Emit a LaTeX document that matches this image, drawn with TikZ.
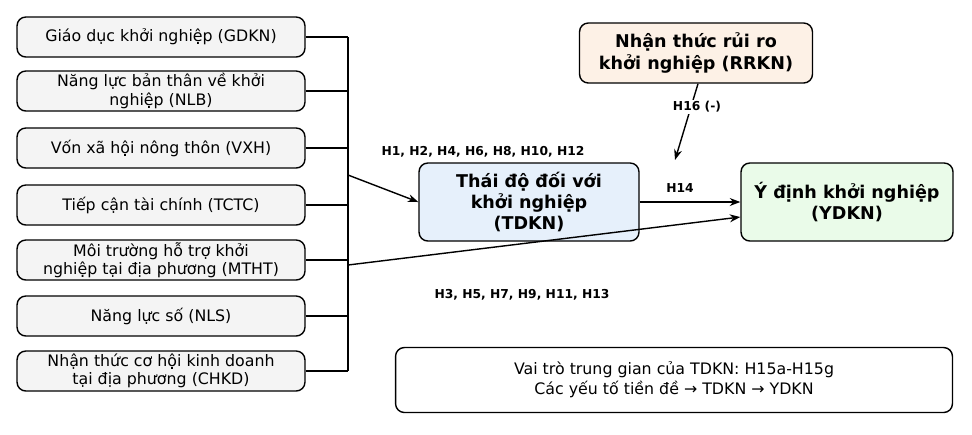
\documentclass[tikz,border=0pt]{standalone}
\usepackage{fontspec}
\setmainfont{DejaVu Sans}
\usetikzlibrary{positioning, calc, arrows.meta}
\definecolor{leftfill}{HTML}{F4F4F4}
\definecolor{tdfill}{HTML}{E6F0FB}
\definecolor{ydfill}{HTML}{EAFBE9}
\definecolor{rrfill}{HTML}{FDF1E6}
\tikzset{
	box/.style = {draw, thick, rounded corners=5pt, align=center, inner sep=1pt},
	factor/.style = {box, fill=leftfill, minimum width=5.76cm, minimum height=0.8cm, font=\fontsize{9}{10.5}\selectfont},
	core/.style = {box, minimum width=4.4cm, minimum height=1.56cm, font=\bfseries\fontsize{10}{12}\selectfont},
	hyp/.style = {font=\bfseries\fontsize{7}{8}\selectfont},
	arrow/.style = {thick, -{Stealth[length=6pt]}}
}
\begin{document}
\begin{tikzpicture}[x=0.02cm, y=-0.02cm]
	\useasboundingbox (0,0) rectangle (972,434);
	
	\node[factor] (gdkn) at (161,37) {Giáo dục khởi nghiệp (GDKN)};
	\node[factor] (nlb) at (161,91) {Năng lực bản thân về khởi\\nghiệp (NLB)};
	\node[factor] (vxh) at (161,148) {Vốn xã hội nông thôn (VXH)};
	\node[factor] (tctc) at (161,205) {Tiếp cận tài chính (TCTC)};
	\node[factor] (mtht) at (161,260) {Môi trường hỗ trợ khởi\\nghiệp tại địa phương (MTHT)};
	\node[factor] (nls) at (161,316) {Năng lực số (NLS)};
	\node[factor] (chkd) at (161,371) {Nhận thức cơ hội kinh doanh\\tại địa phương (CHKD)};
	
	\node[core, fill=tdfill] (tdkn) at (529,202) {Thái độ đối với\\khởi nghiệp\\(TDKN)};
	\node[core, fill=ydfill, minimum width=4.24cm] (ydkn) at (847,202) {Ý định khởi nghiệp\\(YDKN)};
	\node[core, fill=rrfill, minimum width=4.66cm, minimum height=1.2cm] (rrkn) at (696,53) {Nhận thức rủi ro\\khởi nghiệp (RRKN)};
	\node[box, minimum width=11.14cm, minimum height=1.3cm, font=\fontsize{9}{11.5}\selectfont] (note) at (674,380) {Vai trò trung gian của TDKN: H15a-H15g\\Các yếu tố tiền đề → TDKN → YDKN};
	
	% bus from the factors
	\coordinate (bustop) at (348,37);
	\coordinate (busbot) at (348,371);
	\draw[thick] (bustop) -- (busbot);
	\foreach \f in {gdkn, nlb, vxh, tctc, mtht, nls, chkd}
		\draw[thick] (\f.east) -- (\f.east -| bustop);
	
	\coordinate (busa) at (348,175);
	\coordinate (busb) at (348,265);
	\draw[arrow] (busa) -- (tdkn.west);
	\draw[arrow] (busb) -- ($ (ydkn.west) + (0,15) $);
	\draw[arrow] (tdkn.east) -- (ydkn.west);
	
	\coordinate (h16end) at (675,160);
	\draw[arrow] ($ (rrkn.south) + (2,0) $) -- (h16end);
	
	\node[hyp] (lblA) at (483,152) {H1, H2, H4, H6, H8, H10, H12};
	\node[hyp] (lblB) at (522,295) {H3, H5, H7, H9, H11, H13};
	\node[hyp] (lblC) at (680,188) {H14};
	\node[hyp, fill=white, inner sep=1pt] (lblD) at (697,107) {H16 (-)};
\end{tikzpicture}
\end{document}
